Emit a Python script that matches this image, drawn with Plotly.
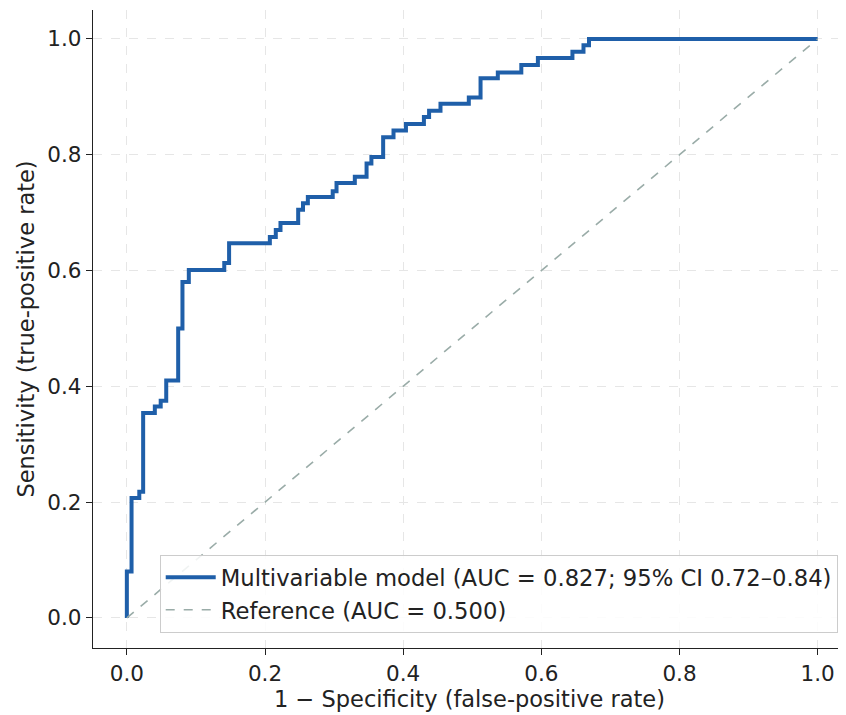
import plotly.graph_objects as go

# ROC curve corner points (right end of each horizontal step)
fpr = [0.0, 0.0068, 0.018, 0.0236, 0.0405, 0.049, 0.057, 0.0743, 0.0805, 0.0897,
       0.141, 0.148, 0.207, 0.2156, 0.2224, 0.248, 0.255, 0.262, 0.298, 0.3035,
       0.33, 0.347, 0.354, 0.371, 0.386, 0.404, 0.430, 0.4375, 0.454, 0.495,
       0.512, 0.537, 0.571, 0.595, 0.645, 0.661, 0.669, 1.0]
tpr = [0.0, 0.080, 0.207, 0.218, 0.354, 0.365, 0.375, 0.410, 0.500, 0.580,
       0.601, 0.613, 0.647, 0.658, 0.670, 0.682, 0.705, 0.716, 0.727, 0.737,
       0.751, 0.762, 0.785, 0.796, 0.830, 0.842, 0.853, 0.865, 0.876, 0.888,
       0.899, 0.932, 0.942, 0.955, 0.967, 0.978, 0.989, 1.0]
ref_x = [0.0, 1.0]
ref_y = [0.0, 1.0]
ticks = [0.0, 0.2, 0.4, 0.6, 0.8, 1.0]
tick_labels = ["0.0", "0.2", "0.4", "0.6", "0.8", "1.0"]

model_name = "Multivariable model (AUC = 0.827; 95% CI 0.72–0.84)"
ref_name = "Reference (AUC = 0.500)"

fig = go.Figure()
fig.add_trace(go.Scatter(x=fpr, y=tpr, mode="lines", line_shape="vh",
                         line=dict(color="#1f5fa9", width=4), name=model_name))
fig.add_trace(go.Scatter(x=ref_x, y=ref_y, mode="lines",
                         line=dict(color="#9aaca8", width=1.6, dash="dash"), name=ref_name))

font = "DejaVu Sans, Liberation Sans, sans-serif"
axis_common = dict(
    tickvals=ticks, ticktext=tick_labels, ticks="outside", ticklen=6, tickwidth=1.3,
    tickcolor="#222", showline=True, linecolor="#222", linewidth=1.3, mirror=False,
    showgrid=True, gridcolor="#e6e6e6", griddash="dash", gridwidth=1, zeroline=False,
    tickfont=dict(family=font, size=21.5, color="#222"),
)
fig.update_xaxes(range=[-0.049, 1.041], title=dict(text="1 − Specificity (false-positive rate)",
                 font=dict(family=font, size=22.5, color="#222"), standoff=4), **axis_common)
fig.update_yaxes(range=[-0.052, 1.05], title=dict(text="Sensitivity (true-positive rate)",
                 font=dict(family=font, size=22.5, color="#222"), standoff=6), **axis_common)

fig.update_layout(
    width=846, height=715,
    margin=dict(l=85, r=8, t=2, b=75),
    plot_bgcolor="white", paper_bgcolor="white",
    font=dict(family=font, color="#222"),
    legend=dict(x=0.989, y=0.0235, xanchor="right", yanchor="bottom",
                bgcolor="rgba(255,255,255,0.85)", bordercolor="#cccccc", borderwidth=1,
                itemwidth=50,
                font=dict(family=font, size=22.7, color="#222"), tracegroupgap=0),
    showlegend=True,
)
fig.write_html("out.html")
